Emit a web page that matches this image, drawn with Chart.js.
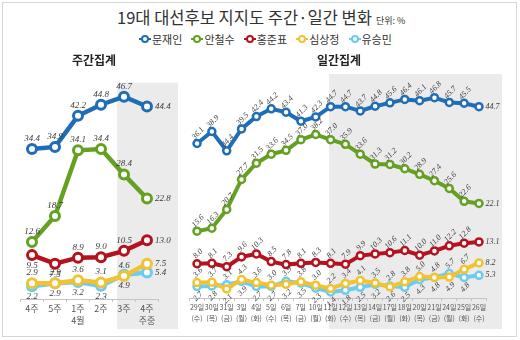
<!DOCTYPE html>
<html>
<head>
<meta charset="utf-8">
<script src="https://cdn.jsdelivr.net/npm/chart.js@4.4.1/dist/chart.umd.min.js"></script>
<style>
body { margin: 0; background: #fff; }
#wrap { position: relative; width: 520px; height: 340px; overflow: hidden; font-family: "Noto Sans CJK KR", sans-serif; color: #333; }
#frame { position: absolute; left: 2px; top: 2px; width: 515px; height: 335px; border: 1px solid #d6d6d6; box-sizing: border-box; }
#title { position: absolute; left: 117px; top: 7px; font-size: 16.5px; line-height: 20px; white-space: nowrap; color: #333; }
#title span { font-size: 9px; margin-left: 4px; }
#legend { position: absolute; left: 139px; top: 31px; display: flex; gap: 9px; font-size: 11px; line-height: 16px; white-space: nowrap; }
#legend .item { display: flex; align-items: center; }
#legend .mk { position: relative; width: 12px; height: 10px; margin-right: 1px; }
#legend .mk::before { content: ""; position: absolute; left: 0; right: 0; top: 4px; height: 2px; background: var(--c); }
#legend .mk::after { content: ""; position: absolute; left: 2px; top: 1px; width: 4px; height: 4px; border: 2.5px solid var(--c); border-radius: 50%; background: #fff; }
.sub { position: absolute; top: 52px; font-size: 12px; font-weight: bold; line-height: 16px; color: #222; z-index: 2; }
canvas { position: absolute; top: 60px; }
</style>
</head>
<body>
<div id="wrap">
  <div id="frame"></div>
  <div id="title">19대 대선후보 지지도 주간·일간 변화<span>단위: %</span></div>
  <div id="legend"></div>
  <canvas id="weekly" width="182" height="275" style="left:0px"></canvas>
  <canvas id="daily" width="333" height="275" style="left:182px"></canvas>
  <div class="sub" style="left:72px">주간집계</div>
  <div class="sub" style="left:317px">일간집계</div>
</div>
<script>
const candidates = ['문재인', '안철수', '홍준표', '심상정', '유승민'];
const colors = ['#1f6db6', '#64a022', '#b3121e', '#f1c232', '#6ccbee'];

// 주간집계
const weekLabels = [['4주'], ['5주'], ['1주', '4월'], ['2주'], ['3주'], ['4주', '주중']];
const weekMoon = [34.4, 34.9, 42.2, 44.8, 46.7, 44.4];
const weekAhn = [12.6, 18.7, 34.1, 34.4, 28.4, 22.8];
const weekHong = [9.5, 7.5, 8.9, 9.0, 10.5, 13.0];
const weekSim = [2.9, 2.9, 3.6, 3.1, 4.6, 7.5];
const weekYoo = [2.2, 2.9, 3.2, 2.3, 4.9, 5.4];

// 일간집계
const dayLabels = [['29일', '(수)'], ['30일', '(목)'], ['31일', '(금)'], ['3일', '(월)'], ['4일', '(화)'],
  ['5일', '(수)'], ['6일', '(목)'], ['7일', '(금)'], ['10일', '(월)'], ['11일', '(화)'],
  ['12일', '(수)'], ['13일', '(목)'], ['14일', '(금)'], ['17일', '(월)'], ['18일', '(화)'],
  ['20일', '(목)'], ['21일', '(금)'], ['24일', '(월)'], ['25일', '(화)'], ['26일', '(수)']];
const dayMoon = [36.1, 38.9, 34.4, 39.5, 42.4, 44.2, 43.4, 41.3, 42.3, 44.7, 44.7, 43.7, 44.8, 45.6, 46.4, 46.1, 46.8, 45.7, 45.5, 44.7];
const dayAhn = [15.6, 16.3, 20.7, 27.7, 31.5, 33.6, 34.5, 37.0, 38.2, 37.0, 35.9, 33.6, 31.3, 31.2, 30.2, 28.9, 27.4, 25.6, 22.6, 22.1];
const dayHong = [8.0, 8.1, 7.3, 9.6, 10.3, 8.5, 7.8, 8.1, 8.3, 8.1, 7.9, 9.9, 10.3, 10.6, 11.1, 10.0, 11.0, 12.2, 12.8, 13.1];
const daySim = [3.6, 3.7, 2.1, 4.3, 3.6, 3.0, 3.2, 3.8, 3.0, 2.2, 3.4, 4.1, 3.5, 2.6, 3.8, 5.0, 4.8, 4.9, 6.7, 8.2];
const dayYoo = [2.7, 2.8, 3.1, 3.9, 2.7, 2.7, 3.9, 3.5, 2.3, 1.4, 1.8, 2.5, 3.2, 2.8, 2.5, 4.3, 4.8, 5.7, 4.8, 5.3];

// legend
const legend = document.getElementById('legend');
candidates.forEach((name, i) => {
  const item = document.createElement('div');
  item.className = 'item';
  item.innerHTML = '<span class="mk" style="--c:' + colors[i] + '"></span>' + name;
  legend.appendChild(item);
});

function makeSets(series, lineW, radius, ptBorder) {
  return series.map((values, i) => ({
    label: candidates[i],
    data: values,
    borderColor: colors[i],
    backgroundColor: '#fff',
    pointBackgroundColor: '#fff',
    pointBorderColor: colors[i],
    borderWidth: lineW,
    pointRadius: radius,
    pointHoverRadius: radius,
    pointBorderWidth: ptBorder,
    tension: 0,
    clip: false
  }));
}

// gray band behind the latest period
function shadePlugin(from, to, above, below) {
  return {
    id: 'shade',
    beforeDraw(chart) {
      const { ctx, chartArea, scales: { x } } = chart;
      const x0 = x.getPixelForValue(from);
      const x1 = x.getPixelForValue(to);
      ctx.save();
      ctx.fillStyle = '#ebebeb';
      ctx.fillRect(x0, chartArea.top - above, x1 - x0, chartArea.bottom - chartArea.top + above + below);
      ctx.restore();
    }
  };
}

// value labels next to each point
function labelPlugin(opt) {
  return {
    id: 'pointLabels',
    afterDatasetsDraw(chart) {
      const ctx = chart.ctx;
      ctx.save();
      ctx.fillStyle = '#3a3a3a';
      ctx.font = 'italic ' + opt.size + 'px "Liberation Serif", serif';
      ctx.textBaseline = 'middle';
      chart.data.datasets.forEach((ds, di) => {
        const pts = chart.getDatasetMeta(di).data;
        pts.forEach((pt, i) => {
          const txt = ds.data[i].toFixed(1);
          if (i === pts.length - 1) {
            ctx.textAlign = 'left';
            ctx.fillText(txt, pt.x + opt.endGap, pt.y);
            return;
          }
          const dir = opt.place(di, i);
          ctx.save();
          ctx.translate(pt.x + opt.shiftX, pt.y + dir * opt.gap);
          ctx.rotate(opt.angle);
          ctx.textAlign = 'center';
          ctx.fillText(txt, 0, 0);
          ctx.restore();
        });
      });
      ctx.restore();
    }
  };
}

function makeOptions(pad, axisH, yMin, yMax, fontSize, lineH) {
  return {
    responsive: false,
    animation: false,
    events: [],
    layout: { padding: pad },
    plugins: { legend: { display: false }, tooltip: { enabled: false } },
    scales: {
      x: {
        offset: true,
        grid: { drawOnChartArea: false, drawTicks: true, tickLength: 3, color: '#c4c4c4', offset: true },
        border: { color: '#c4c4c4' },
        ticks: {
          autoSkip: false, maxRotation: 0, padding: 1, color: '#555',
          font: { family: '"Noto Sans CJK KR", sans-serif', size: fontSize, lineHeight: lineH }
        },
        afterFit(scale) { scale.height = axisH; }
      },
      y: { display: false, min: yMin, max: yMax }
    }
  };
}

new Chart(document.getElementById('weekly'), {
  type: 'line',
  data: {
    labels: weekLabels,
    datasets: makeSets([weekMoon, weekAhn, weekHong, weekSim, weekYoo], 4.5, 4.5, 3)
  },
  options: makeOptions({ left: 20.5, right: 23.5, top: 22.6, bottom: 0 }, 36, -0.8, 50, 9, 1.33),
  plugins: [
    shadePlugin(3.7, 6.35, 0, 30),
    labelPlugin({
      size: 9, angle: 0, gap: 10.5, shiftX: 0, endGap: 8,
      place: (di, i) => (di === 4 || (di === 2 && i < 2)) ? 1 : -1
    })
  ]
});

new Chart(document.getElementById('daily'), {
  type: 'line',
  data: {
    labels: dayLabels,
    datasets: makeSets([dayMoon, dayAhn, dayHong, daySim, dayYoo], 4, 3.5, 2.5)
  },
  options: makeOptions({ left: 7.6, right: 28.6, top: 24, bottom: 0 }, 37, 0, 50, 7, 1.6),
  plugins: [
    shadePlugin(8.9, 20.55, 10, 31),
    labelPlugin({
      size: 8, angle: -0.8, gap: 10, shiftX: 1, endGap: 6.5,
      place: (di, i) => {
        if (di === 3) return daySim[i] >= dayYoo[i] ? -1 : 1;
        if (di === 4) return dayYoo[i] > daySim[i] ? -1 : 1;
        return -1;
      }
    })
  ]
});
</script>
</body>
</html>
